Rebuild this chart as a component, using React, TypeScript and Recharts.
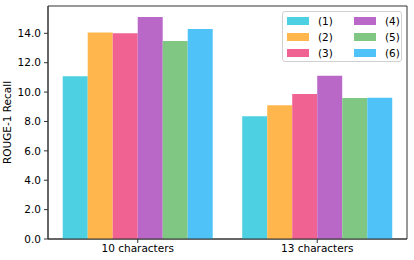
import { BarChart, Bar, XAxis, YAxis, ReferenceArea } from "recharts";

const categories = ["10 characters", "13 characters"];
const seriesNames = ["(1)", "(2)", "(3)", "(4)", "(5)", "(6)"];
const colors = ["#4dd0e1", "#ffb74d", "#f06292", "#ba68c8", "#81c784", "#4fc3f7"];
const s1 = [11.07, 8.35];
const s2 = [14.05, 9.1];
const s3 = [14.0, 9.87];
const s4 = [15.11, 11.12];
const s5 = [13.48, 9.6];
const s6 = [14.3, 9.62];
const yTicks = [0, 2, 4, 6, 8, 10, 12, 14];
const yMax = 15.86;

const series = [s1, s2, s3, s4, s5, s6];
const data = categories.map((c, i) => {
  const row: Record<string, any> = { name: c };
  series.forEach((s, k) => (row[`s${k}`] = s[i]));
  return row;
});

const FONT = "'DejaVu Sans', sans-serif";

function LegendBox() {
  return (
    <div
      style={{
        position: "absolute",
        left: 282,
        top: 11,
        width: 120,
        height: 51,
        boxSizing: "border-box",
        border: "1px solid #d0d0d0",
        borderRadius: 3,
        background: "rgba(255,255,255,0.8)",
        display: "grid",
        gridTemplateRows: "repeat(3, 16px)",
        gridAutoFlow: "column",
        gridTemplateColumns: "67px 50px",
        padding: "1px 0 0 4px",
        fontFamily: FONT,
        fontSize: 10.5,
        color: "#000",
      }}
    >
      {seriesNames.map((n, k) => (
        <div key={n} style={{ display: "flex", alignItems: "center" }}>
          <span style={{ width: 22, height: 8, background: colors[k], display: "inline-block", marginRight: 9 }} />
          <span>{n}</span>
        </div>
      ))}
    </div>
  );
}

export default function App() {
  return (
    <div style={{ position: "absolute", left: 0, top: 0, width: 414, height: 260, background: "#fff" }}>
      <BarChart
        width={414}
        height={260}
        data={data}
        margin={{ top: 6, right: 7, bottom: 0, left: 0 }}
        barCategoryGap="8.2%"
        barGap={0}
      >
        <XAxis
          dataKey="name"
          height={21}
          tickSize={4}
          tickMargin={2}
          stroke="#333"
          tick={{ fill: "#000", fontSize: 10.5, fontFamily: FONT }}
        />
        <YAxis
          width={48}
          domain={[0, yMax]}
          ticks={yTicks}
          tickSize={4}
          tickMargin={3}
          allowDataOverflow
          stroke="#333"
          tickFormatter={(v: number) => v.toFixed(1)}
          tick={{ fill: "#000", fontSize: 10.5, fontFamily: FONT }}
          label={{
            content: (p: any) => {
              const vb = p.viewBox;
              const cy = vb.y + vb.height / 2;
              return (
                <text
                  x={7}
                  y={cy}
                  transform={`rotate(-90, 7, ${cy})`}
                  textAnchor="middle"
                  dominantBaseline="central"
                  style={{ fontSize: 10.5, fontFamily: FONT, fill: "#000" }}
                >
                  ROUGE-1 Recall
                </text>
              );
            },
          }}
        />
        {seriesNames.map((n, k) => (
          <Bar key={n} dataKey={`s${k}`} name={n} fill={colors[k]} isAnimationActive={false} />
        ))}
        <ReferenceArea y1={0} y2={yMax} fill="none" stroke="#333" strokeWidth={1} ifOverflow="visible" />
      </BarChart>
      <LegendBox />
    </div>
  );
}
